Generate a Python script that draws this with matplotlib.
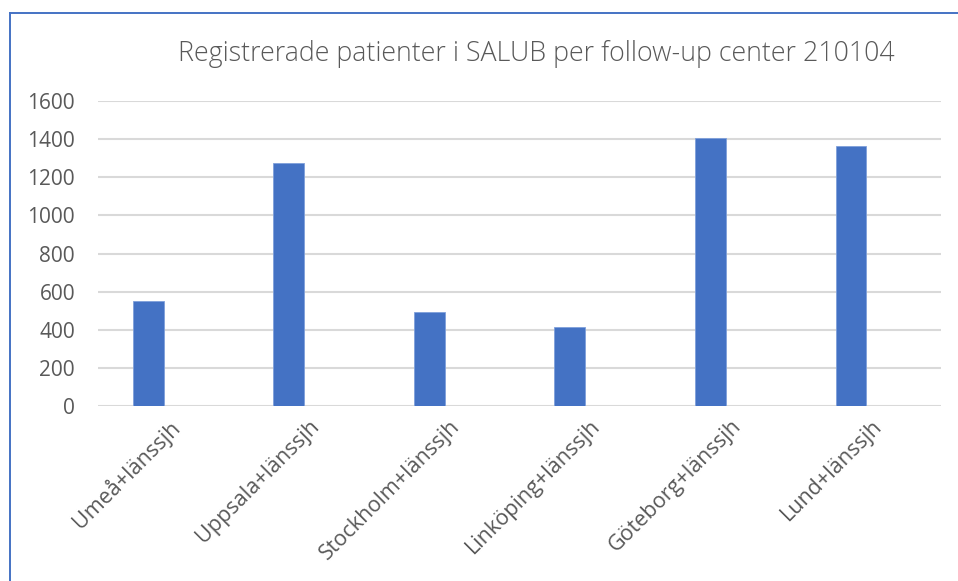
import matplotlib
matplotlib.use('Agg')
import matplotlib.pyplot as plt
import matplotlib.transforms as mtransforms
from matplotlib.lines import Line2D

categories = ['Umeå+länssjh', 'Uppsala+länssjh', 'Stockholm+länssjh',
              'Linköping+länssjh', 'Göteborg+länssjh', 'Lund+länssjh']
patients = [551, 1274, 495, 413, 1405, 1365]
yticks = [0, 200, 400, 600, 800, 1000, 1200, 1400, 1600]

title = 'Registrerade patienter i SALUB per follow-up center 210104'

text_color = '#595959'
bar_color = '#4472C4'
grid_color = '#D9D9D9'

fig = plt.figure(figsize=(9.58, 5.81), dpi=100)
ax = fig.add_axes([98/958, 1 - 406/581, (941 - 98)/958, (406 - 101)/581])

x = range(len(categories))
ax.bar(x, patients, width=0.22, color=bar_color, edgecolor='#7FA0DA', linewidth=0.6, zorder=3)

ax.set_xlim(-0.356, 5.64)
ax.set_ylim(0, 1600)
ax.set_yticks(yticks)
ax.set_yticklabels([str(t) for t in yticks], fontsize=15, color=text_color, family='Open Sans')
ax.yaxis.grid(True, color=grid_color, linewidth=1.5, zorder=0)
ax.tick_params(axis='y', length=0, pad=16.5)
ax.tick_params(axis='x', length=0, pad=7)

ax.set_xticks(list(x))
ax.set_xticklabels(categories, rotation=45, ha='right', rotation_mode='anchor',
                   fontsize=15.5, color=text_color, family='Open Sans')
shift = mtransforms.ScaledTranslation(20/100, 0, fig.dpi_scale_trans)
for lab in ax.get_xticklabels():
    lab.set_transform(lab.get_transform() + shift)

for s in ax.spines.values():
    s.set_visible(False)

fig.text(0.56, 1 - 54/581, title, ha='center', va='center', fontsize=19.3,
         color=text_color, family='Open Sans', fontweight='light')

# border of the chart area (only left and top are in the crop)
fig.add_artist(Line2D([10/958, 10/958], [0, 1 - 12.5/581], transform=fig.transFigure,
                      color=bar_color, linewidth=1.4))
fig.add_artist(Line2D([10/958, 1], [1 - 12.5/581, 1 - 12.5/581], transform=fig.transFigure,
                      color=bar_color, linewidth=1.4))

fig.savefig('out.png', dpi=100)
